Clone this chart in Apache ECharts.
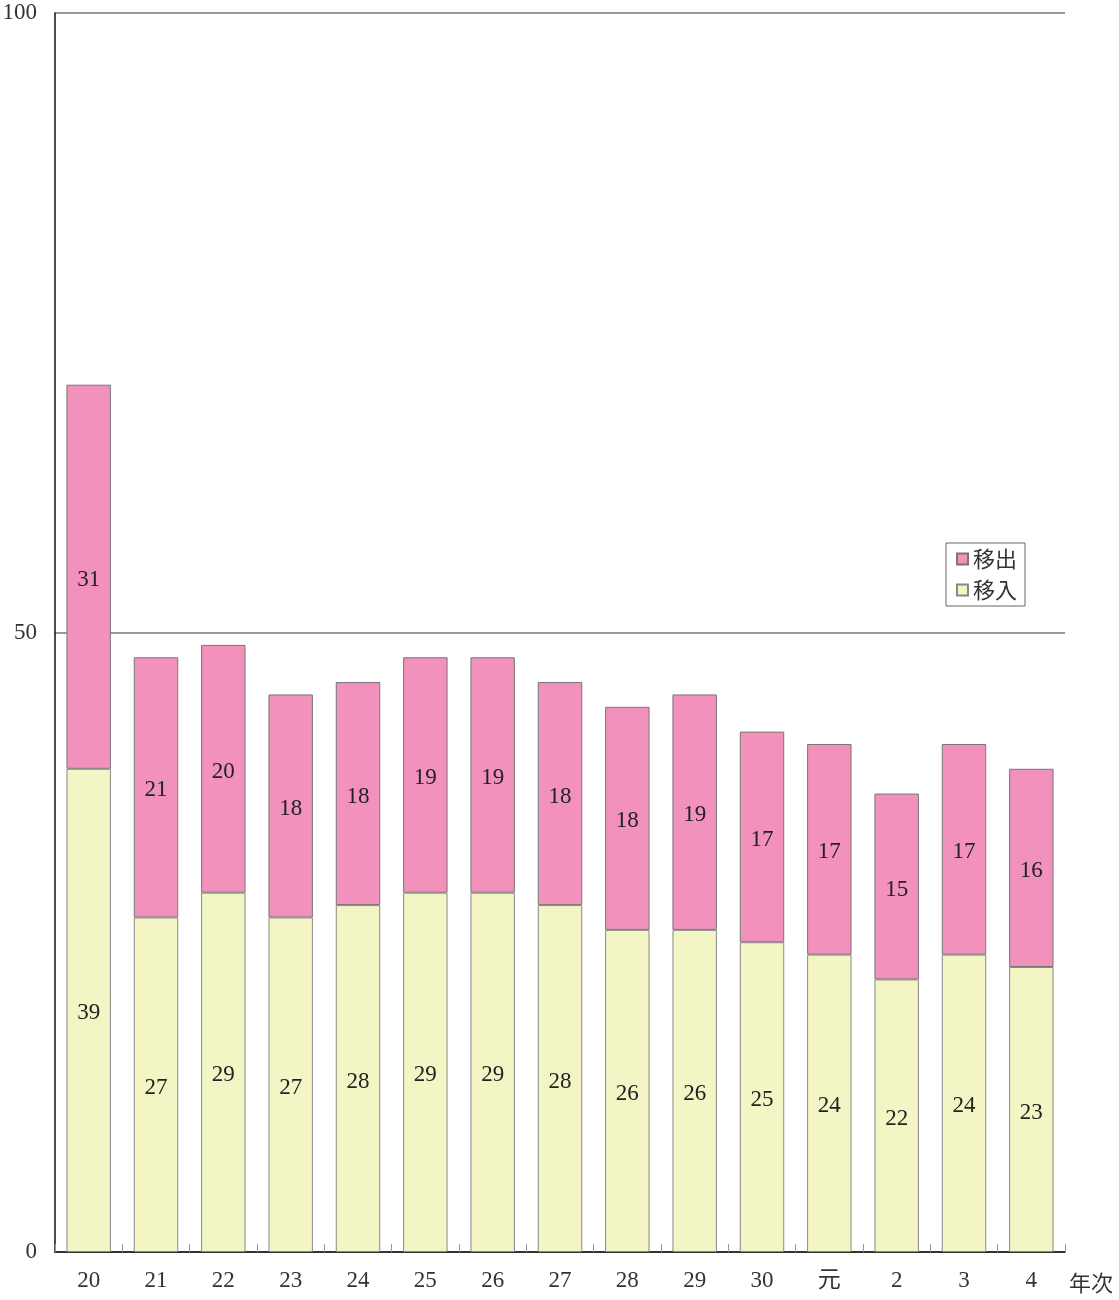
<!DOCTYPE html>
<html>
<head>
<meta charset="utf-8">
<script src="https://cdn.jsdelivr.net/npm/echarts@6/dist/echarts.min.js"></script>
<style>
html, body { margin: 0; padding: 0; background: #fff; }
#main { width: 1119px; height: 1300px; }
</style>
</head>
<body>
<div id="main"></div>
<script>
// 年次ラベル
const years = ['20', '21', '22', '23', '24', '25', '26', '27', '28', '29', '30', '元', '2', '3', '4'];
// 移入
const inflow = [39, 27, 29, 27, 28, 29, 29, 28, 26, 26, 25, 24, 22, 24, 23];
// 移出
const outflow = [31, 21, 20, 18, 18, 19, 19, 18, 18, 19, 17, 17, 15, 17, 16];

const serif = '"Liberation Serif", "Noto Sans CJK JP", serif';
const cjk = '"Noto Sans CJK JP", sans-serif';

const chart = echarts.init(document.getElementById('main'));

const labelStyle = {
    show: true,
    position: 'inside',
    offset: [0, 3],
    color: '#222',
    fontFamily: serif,
    fontSize: 23
};

chart.setOption({
    animation: false,
    grid: { left: 55, right: 54, top: 13, bottom: 48, containLabel: false, outerBoundsMode: 'none' },
    legend: {
        right: 94,
        top: 543,
        orient: 'vertical',
        itemWidth: 11,
        itemHeight: 11,
        itemGap: 9,
        padding: [5, 8, 5, 10],
        borderColor: '#666',
        borderWidth: 1,
        borderRadius: 0,
        icon: 'rect',
        textStyle: { fontFamily: cjk, fontSize: 22, color: '#333' },
        data: ['移出', '移入']
    },
    xAxis: {
        type: 'category',
        data: years,
        name: '年次',
        nameLocation: 'end',
        nameGap: 4,
        nameTextStyle: { fontFamily: cjk, fontSize: 22, color: '#333', verticalAlign: 'top', padding: [20, 0, 0, 0] },
        axisLine: { lineStyle: { color: '#111', width: 1.5 } },
        axisTick: { show: true, inside: true, length: 8, lineStyle: { color: '#999', width: 1 } },
        axisLabel: { fontFamily: serif, fontSize: 23, color: '#333', margin: 17 }
    },
    yAxis: {
        type: 'value',
        min: 0,
        max: 100,
        interval: 50,
        axisLine: { show: true, lineStyle: { color: '#111', width: 1.5 } },
        axisTick: { show: false },
        axisLabel: { fontFamily: serif, fontSize: 23, color: '#333', margin: 18 },
        splitLine: { lineStyle: { color: '#999', width: 2 } }
    },
    series: [
        {
            name: '移入',
            type: 'bar',
            stack: 'total',
            barWidth: '66%',
            data: inflow,
            itemStyle: { color: '#f3f5c5', borderColor: '#888', borderWidth: 1 },
            label: labelStyle
        },
        {
            name: '移出',
            type: 'bar',
            stack: 'total',
            data: outflow,
            itemStyle: { color: '#f291bb', borderColor: '#777', borderWidth: 1 },
            label: labelStyle
        }
    ]
});
</script>
</body>
</html>
